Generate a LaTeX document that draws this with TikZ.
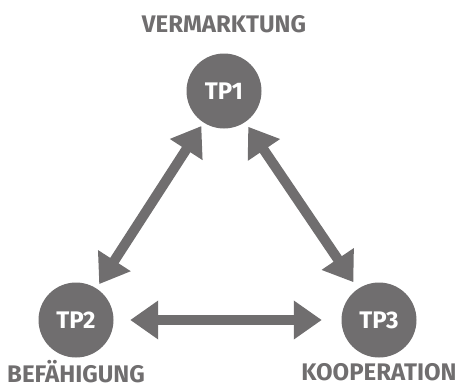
\documentclass[tikz,border=0pt]{standalone}
\usepackage{fontspec}
\setmainfont{Fira Sans}
\usepackage{tikz}
\usetikzlibrary{calc, positioning, arrows.meta}
\definecolor{tpgrey}{RGB}{112,110,111}
\tikzset{
  tp/.style={circle, fill=tpgrey, minimum size=75pt, inner sep=0pt, text=white, font=\bfseries\fontsize{24}{24}\selectfont},
  tplabel/.style={text=tpgrey, inner sep=0pt, text height=16.5pt, text depth=0pt, font=\bfseries\fontsize{24}{24}\selectfont},
  biarrow/.style={line width=10pt, draw=tpgrey, {Triangle[width=37pt,length=28pt]}-{Triangle[width=37pt,length=28pt]}}
}

\begin{document}
\begin{tikzpicture}[x=1pt, y=-1pt, node distance=12pt]
\useasboundingbox (0,0) rectangle (457,388);
% nodes %
\node[tp] (tp1) at (224,91) {TP1};
\node[tp] (tp2) at (76,320) {TP2};
\node[tp] (tp3) at (379,320) {TP3};
\node[tplabel, above=21pt of tp1] (verm) {VERMARKTUNG};
\node[tplabel, below=8pt of tp2] (bef) {BEFÄHIGUNG};
\node[tplabel, below=6pt of tp3] (koop) {KOOPERATION};
% edges %
\draw[biarrow, shorten <=4pt, shorten >=5pt] (tp1) -- (tp2);
\draw[biarrow, shorten <=5.5pt, shorten >=8pt] (tp1) -- (tp3);
\draw[biarrow, shorten <=16.5pt, shorten >=19.5pt] (tp2) -- (tp3);
\end{tikzpicture}
\end{document}
